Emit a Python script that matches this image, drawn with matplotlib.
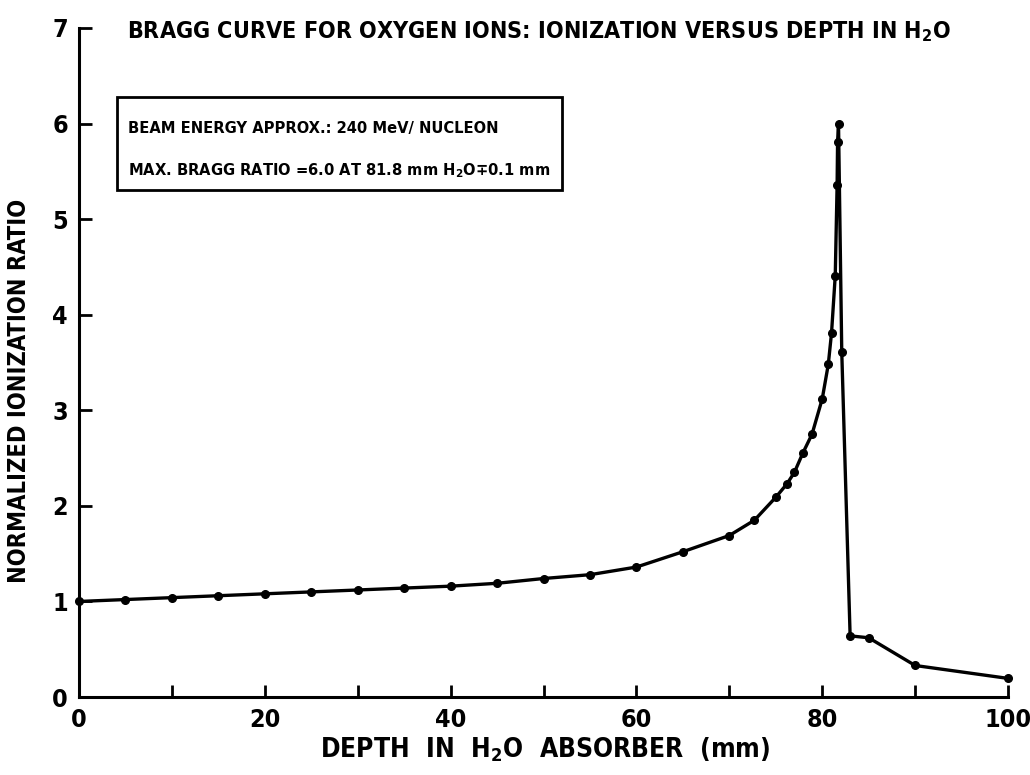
import matplotlib
matplotlib.use("Agg")
import matplotlib.pyplot as plt
from matplotlib.patches import Rectangle

depth_mm = [0, 5, 10, 15, 20, 25, 30, 35, 40, 45, 50, 55, 60, 65, 70, 72.7, 75, 76.2,
            77.0, 77.9, 78.9, 80.0, 80.65, 81.0, 81.4, 81.6, 81.65, 81.75, 82.1, 83,
            85, 90, 100]
ionization_ratio = [1.00, 1.02, 1.04, 1.06, 1.08, 1.10, 1.12, 1.14, 1.16, 1.19, 1.24,
                    1.28, 1.36, 1.52, 1.69, 1.85, 2.09, 2.23, 2.35, 2.55, 2.75, 3.12,
                    3.48, 3.81, 4.41, 5.36, 5.81, 6.00, 3.61, 0.64, 0.62, 0.33, 0.195]
x_ticks = [0, 10, 20, 30, 40, 50, 60, 70, 80, 90, 100]
x_tick_labels = ["0", "", "20", "", "40", "", "60", "", "80", "", "100"]
y_ticks = [0, 1, 2, 3, 4, 5, 6, 7]

plt.rcParams["font.family"] = ["DejaVu Sans"]
plt.rcParams["font.stretch"] = "condensed"
plt.rcParams["font.weight"] = "bold"
plt.rcParams["mathtext.fontset"] = "dejavusans"

fig = plt.figure(figsize=(10.3, 7.75), dpi=100)
ax = fig.add_axes([0.0767, 0.1006, 0.902, 0.8633])

ax.plot(depth_mm, ionization_ratio, color="black", lw=2.4, marker="o", ms=5.5,
        solid_joinstyle="round", zorder=3, clip_on=False)

ax.set_xlim(0, 100)
ax.set_ylim(0, 7)
ax.set_xticks(x_ticks)
ax.set_xticklabels(x_tick_labels)
ax.set_yticks(y_ticks)
ax.spines["top"].set_visible(False)
ax.spines["right"].set_visible(False)
for s in ("left", "bottom"):
    ax.spines[s].set_linewidth(2.2)
ax.tick_params(direction="in", length=9, width=2, labelsize=18, pad=8)
for lab in ax.get_xticklabels() + ax.get_yticklabels():
    lab.set_fontweight("bold")

xl = fig.text(545 / 1030, 1 - 750 / 775, "DEPTH  IN  H$_\\mathbf{2}$O  ABSORBER  (mm)",
              fontsize=18, fontweight="bold", ha="center", va="center")
yl = fig.text(0.018, 0.495, "NORMALIZED IONIZATION RATIO", rotation=90, fontsize=15,
              fontweight="bold", ha="center", va="center")

title = fig.text(539 / 1030, 1 - 32 / 775,
                 "BRAGG CURVE FOR OXYGEN IONS: IONIZATION VERSUS DEPTH IN H$_\\mathbf{2}$O",
                 fontsize=21, fontweight="heavy", ha="center", va="center")

b1 = fig.text(128 / 1030, 1 - 129 / 775, "BEAM ENERGY APPROX.: 240 MeV/ NUCLEON",
              fontsize=11.8, fontweight="bold", va="center", ha="left")
b2 = fig.text(128 / 1030, 1 - 171 / 775,
              "MAX. BRAGG RATIO =6.0 AT 81.8 mm H$_\\mathbf{2}$O\u22130.1 mm",
              fontsize=11.8, fontweight="bold", va="center", ha="left")

# fit text widths to the reference extents
r = fig.canvas.get_renderer()
def fit(t, target_px, horizontal=True):
    for _ in range(3):
        bb = t.get_window_extent(renderer=r)
        w = bb.width if horizontal else bb.height
        t.set_fontsize(t.get_fontsize() * target_px / w)

fit(title, 950 - 128)
fit(xl, 770 - 320)
fit(yl, 585 - 200, horizontal=False)

right_px = max(b1.get_window_extent(renderer=r).x1, b2.get_window_extent(renderer=r).x1) + 12
box = Rectangle((117 / 1030, 1 - 190 / 775), (right_px - 117) / 1030, (190 - 97) / 775,
                transform=fig.transFigure, fill=False, lw=2, edgecolor="black")
fig.patches.append(box)

fig.savefig("out.png", dpi=100, facecolor="white")
